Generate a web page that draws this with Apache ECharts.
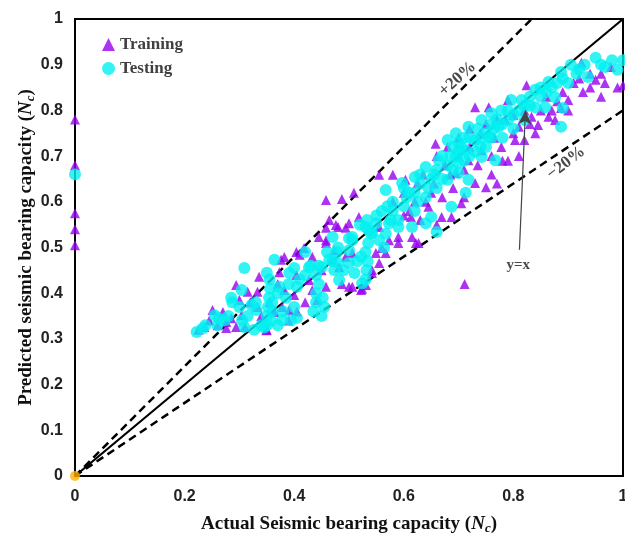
<!DOCTYPE html>
<html>
<head>
<meta charset="utf-8">
<script src="https://cdn.jsdelivr.net/npm/echarts@6/dist/echarts.min.js"></script>
<style>html,body{margin:0;padding:0;background:#fff;}#c{width:625px;height:536px;}</style>
</head>
<body>
<div id="c"></div>
<script>
const xTicks = [0, 0.2, 0.4, 0.6, 0.8, 1];
const yTicks = [0, 0.1, 0.2, 0.3, 0.4, 0.5, 0.6, 0.7, 0.8, 0.9, 1];

const training = [
[0,0.78],[0,0.68],[0,0.575],[0,0.54],[0,0.505],
[0.225,0.32],[0.236,0.326],[0.245,0.34],[0.251,0.363],[0.26,0.33],[0.27,0.359],[0.276,0.324],[0.276,0.337],[0.285,0.345],[0.294,0.326],[0.294,0.418],[0.30,0.385],[0.304,0.352],[0.31,0.326],[0.315,0.403],[0.32,0.38],[0.333,0.403],[0.333,0.37],[0.336,0.436],[0.34,0.35],[0.349,0.319],[0.35,0.32],[0.355,0.38],[0.364,0.359],[0.37,0.42],[0.373,0.446],[0.376,0.473],[0.378,0.37],[0.382,0.407],[0.382,0.479],[0.39,0.34],[0.391,0.363],[0.40,0.396],[0.404,0.44],[0.404,0.49],[0.405,0.36],[0.41,0.484],[0.418,0.499],[0.42,0.38],[0.427,0.429],[0.433,0.407],[0.433,0.48],[0.442,0.385],[0.445,0.523],[0.45,0.45],[0.458,0.414],[0.458,0.51],[0.458,0.543],[0.458,0.604],[0.458,0.516],[0.464,0.56],[0.469,0.473],[0.473,0.494],[0.476,0.549],[0.48,0.545],[0.482,0.457],[0.487,0.606],[0.487,0.42],[0.494,0.48],[0.494,0.543],[0.50,0.414],[0.50,0.553],[0.506,0.488],[0.506,0.414],[0.509,0.62],[0.518,0.567],[0.522,0.407],[0.524,0.41],[0.531,0.418],[0.542,0.451],[0.542,0.444],[0.549,0.488],[0.555,0.466],[0.555,0.545],[0.555,0.659],[0.56,0.499],[0.567,0.488],[0.573,0.516],[0.58,0.659],[0.58,0.6],[0.59,0.523],[0.59,0.51],[0.60,0.57],[0.60,0.62],[0.603,0.648],[0.61,0.58],[0.613,0.567],[0.615,0.523],[0.62,0.6],[0.622,0.51],[0.625,0.64],[0.627,0.51],[0.63,0.56],[0.635,0.66],[0.64,0.60],[0.645,0.589],[0.65,0.62],[0.655,0.64],[0.658,0.727],[0.66,0.55],[0.66,0.70],[0.669,0.567],[0.67,0.61],[0.675,0.68],[0.68,0.72],[0.685,0.66],[0.687,0.567],[0.69,0.63],[0.695,0.663],[0.70,0.74],[0.70,0.70],[0.705,0.597],[0.71,0.61],[0.71,0.67],[0.711,0.42],[0.718,0.691],[0.72,0.76],[0.72,0.72],[0.73,0.807],[0.73,0.641],[0.735,0.68],[0.74,0.75],[0.742,0.713],[0.75,0.632],[0.75,0.77],[0.755,0.807],[0.76,0.66],[0.76,0.70],[0.765,0.74],[0.77,0.64],[0.77,0.78],[0.778,0.72],[0.78,0.69],[0.785,0.78],[0.79,0.823],[0.79,0.69],[0.80,0.75],[0.80,0.79],[0.803,0.735],[0.81,0.70],[0.81,0.764],[0.82,0.735],[0.82,0.80],[0.824,0.855],[0.83,0.77],[0.833,0.786],[0.84,0.75],[0.845,0.768],[0.85,0.80],[0.86,0.83],[0.864,0.786],[0.87,0.80],[0.876,0.779],[0.88,0.82],[0.887,0.805],[0.89,0.84],[0.9,0.823],[0.9,0.80],[0.91,0.86],[0.92,0.87],[0.924,0.904],[0.927,0.84],[0.94,0.85],[0.94,0.88],[0.95,0.867],[0.96,0.83],[0.96,0.88],[0.967,0.86],[0.978,0.895],[0.99,0.85],[1.0,0.855]
];

const testing = [
[0,0.66],
[0.222,0.315],[0.233,0.323],[0.238,0.33],[0.255,0.352],[0.26,0.33],[0.262,0.345],[0.273,0.341],[0.28,0.35],[0.285,0.39],[0.287,0.38],[0.30,0.37],[0.304,0.407],[0.305,0.341],[0.309,0.455],[0.309,0.326],[0.315,0.35],[0.322,0.374],[0.327,0.32],[0.33,0.38],[0.331,0.363],[0.34,0.33],
[0.345,0.325],[0.35,0.33],[0.35,0.35],[0.352,0.37],[0.354,0.39],[0.356,0.41],[0.355,0.43],[0.35,0.445],[0.358,0.34],[0.36,0.36],[0.36,0.38],
[0.364,0.473],[0.37,0.33],[0.37,0.40],[0.373,0.414],[0.378,0.341],[0.38,0.36],[0.385,0.39],[0.39,0.42],[0.391,0.444],[0.394,0.341],[0.40,0.455],[0.40,0.37],[0.405,0.414],[0.405,0.346],[0.41,0.43],[0.42,0.44],[0.42,0.49],[0.427,0.457],[0.43,0.46],
[0.435,0.36],[0.44,0.38],[0.44,0.40],[0.445,0.42],[0.44,0.44],[0.445,0.46],[0.45,0.35],[0.45,0.457],[0.452,0.39],[0.455,0.37],
[0.46,0.49],[0.464,0.473],[0.47,0.47],[0.47,0.523],[0.473,0.451],[0.478,0.49],[0.48,0.50],[0.48,0.466],[0.482,0.429],[0.49,0.45],[0.5,0.494],[0.5,0.52],[0.5,0.466],[0.506,0.516],[0.506,0.523],[0.51,0.444],[0.515,0.47],
[0.52,0.55],[0.522,0.48],[0.524,0.422],[0.53,0.43],[0.532,0.45],[0.534,0.47],[0.53,0.49],[0.535,0.51],[0.536,0.538],[0.54,0.53],[0.53,0.545],[0.533,0.56],
[0.542,0.532],[0.55,0.553],[0.55,0.57],[0.555,0.516],[0.56,0.58],[0.564,0.50],[0.567,0.53],[0.567,0.626],[0.57,0.59],[0.573,0.553],[0.576,0.56],[0.58,0.58],[0.58,0.6],[0.59,0.545],[0.59,0.56],[0.597,0.641],[0.6,0.59],[0.6,0.63],[0.605,0.61],[0.61,0.62],[0.615,0.545],[0.62,0.654],[0.62,0.58],[0.62,0.62],[0.625,0.6],[0.63,0.64],[0.63,0.66],[0.64,0.676],[0.64,0.553],[0.64,0.61],[0.645,0.63],[0.65,0.567],[0.65,0.65],[0.655,0.66],[0.66,0.534],[0.66,0.63],[0.66,0.67],[0.664,0.691],[0.67,0.65],[0.67,0.70],[0.68,0.648],[0.68,0.68],[0.68,0.735],[0.685,0.7],[0.687,0.589],[0.69,0.67],[0.69,0.72],
[0.695,0.75],[0.695,0.698],[0.70,0.685],[0.70,0.663],[0.70,0.71],[0.70,0.73],[0.705,0.72],[0.71,0.74],[0.71,0.69],[0.713,0.62],[0.713,0.713],[0.718,0.764],[0.718,0.648],[0.72,0.7],[0.72,0.74],[0.73,0.735],[0.73,0.71],[0.735,0.76],[0.74,0.74],[0.74,0.72],[0.742,0.779],[0.742,0.698],[0.75,0.72],[0.75,0.75],[0.755,0.742],[0.76,0.794],[0.76,0.77],[0.76,0.74],[0.765,0.76],[0.767,0.691],[0.77,0.78],[0.773,0.764],[0.778,0.80],[0.78,0.74],[0.78,0.77],[0.79,0.779],[0.79,0.80],[0.796,0.823],[0.80,0.76],[0.80,0.79],[0.81,0.80],[0.815,0.823],[0.82,0.779],[0.82,0.81],[0.83,0.81],[0.83,0.83],[0.84,0.845],[0.84,0.807],[0.85,0.83],[0.85,0.85],[0.858,0.807],[0.86,0.84],[0.864,0.862],[0.87,0.85],[0.876,0.829],[0.88,0.86],[0.887,0.884],[0.887,0.764],[0.89,0.805],[0.89,0.87],[0.9,0.86],[0.905,0.9],[0.915,0.88],[0.92,0.89],[0.93,0.9],[0.936,0.873],[0.95,0.915],[0.96,0.9],[0.967,0.895],[0.98,0.91],[0.99,0.889],[1.0,0.91]
];

const origin = [[0, 0]];
const lineYX = [[0, 0], [1, 1]];
const linePlus20 = [[0, 0], [1 / 1.2, 1]];
const lineMinus20 = [[0, 0], [1, 0.8]];
const arrowFrom = [0.811, 0.495];
const arrowTo = [0.822, 0.80];
const labelPlus = [[0.698, 0.869]];
const labelMinus = [[0.896, 0.685]];
const labelYX = [[0.809, 0.462]];

const serif = '"Liberation Serif", "Times New Roman", serif';
const sans = '"Liberation Sans", Arial, sans-serif';

const chart = echarts.init(document.getElementById('c'));
const dashStyle = { color: '#000', width: 2.5, type: [8, 5] };

function textSeries(data, text, rotate, size) {
  return {
    type: 'scatter', data: data, symbolSize: 0, silent: true, z: 6,
    label: { show: true, position: 'inside', formatter: text, rotate: rotate,
      fontFamily: serif, fontWeight: 'bold', fontSize: size, color: '#1a1a1a' }
  };
}

const richName = {
  a: { fontFamily: serif, fontWeight: 'bold', fontSize: 19, color: '#111' },
  i: { fontFamily: serif, fontWeight: 'bold', fontStyle: 'italic', fontSize: 19, color: '#111' },
  s: { fontFamily: serif, fontWeight: 'bold', fontStyle: 'italic', fontSize: 13, color: '#111', padding: [9, 0, 0, 0] }
};

chart.setOption({
  animation: false,
  grid: { left: 75, right: 2, top: 19, bottom: 60, show: true, borderColor: '#000', borderWidth: 2,
    containLabel: false, outerBoundsMode: 'none' },
  legend: {
    orient: 'vertical', left: 97, top: 31, itemWidth: 13, itemHeight: 13, itemGap: 7,
    data: ['Training', 'Testing'],
    textStyle: { fontFamily: serif, fontWeight: 'bold', fontSize: 17, color: '#404040' }
  },
  xAxis: {
    type: 'value', min: 0, max: 1, interval: 0.2,
    splitLine: { show: false },
    axisLine: { lineStyle: { color: '#000', width: 2 } },
    axisTick: { show: false },
    axisLabel: { fontFamily: sans, fontWeight: 'bold', fontSize: 16, color: '#222', margin: 13,
      formatter: v => xTicks.includes(+v.toFixed(1)) ? String(+v.toFixed(1)) : '' },
    name: '{a|Actual Seismic bearing capacity (}{i|N}{s|c}{a|)}',
    nameLocation: 'middle', nameGap: 37, nameMoveOverlap: false,
    nameTextStyle: { rich: richName }
  },
  yAxis: {
    type: 'value', min: 0, max: 1, interval: 0.1,
    splitLine: { show: false },
    axisLine: { lineStyle: { color: '#000', width: 2 } },
    axisTick: { show: false },
    axisLabel: { fontFamily: sans, fontWeight: 'bold', fontSize: 16, color: '#222', margin: 12,
      formatter: v => yTicks.includes(+v.toFixed(1)) ? String(+v.toFixed(1)) : '' },
    name: '{a|Predicted seismic bearing capacity (}{i|N}{s|c}{a|)}',
    nameLocation: 'middle', nameGap: 38, nameRotate: 90, nameMoveOverlap: false,
    nameTextStyle: { rich: richName }
  },
  series: [
    { type: 'line', data: lineYX, symbol: 'none', silent: true, z: 1, lineStyle: { color: '#000', width: 2.2 } },
    { type: 'line', data: linePlus20, symbol: 'none', silent: true, z: 1, lineStyle: dashStyle },
    { type: 'line', data: lineMinus20, symbol: 'none', silent: true, z: 1, lineStyle: dashStyle },
    { name: 'Training', type: 'scatter', data: training, symbol: 'triangle', symbolSize: 10, z: 3,
      itemStyle: { color: '#9900F0' } },
    { name: 'Testing', type: 'scatter', data: testing, symbol: 'circle', symbolSize: 12, z: 4,
      itemStyle: { color: '#00F0F0' } },
    { type: 'scatter', data: origin, symbol: 'circle', symbolSize: 10, z: 5, itemStyle: { color: '#FFB000' } },
    { type: 'line', data: [], symbol: 'none', z: 6,
      markLine: { silent: true, symbol: ['none', 'arrow'], symbolSize: [10, 14],
        lineStyle: { color: '#444', width: 1.2, type: 'solid' }, label: { show: false },
        data: [[{ coord: arrowFrom }, { coord: arrowTo }]] } },
    textSeries(labelPlus, '+20%', 42, 17),
    textSeries(labelMinus, '\u221220%', 38, 17),
    textSeries(labelYX, 'y=x', 0, 15)
  ]
});
</script>
</body>
</html>
